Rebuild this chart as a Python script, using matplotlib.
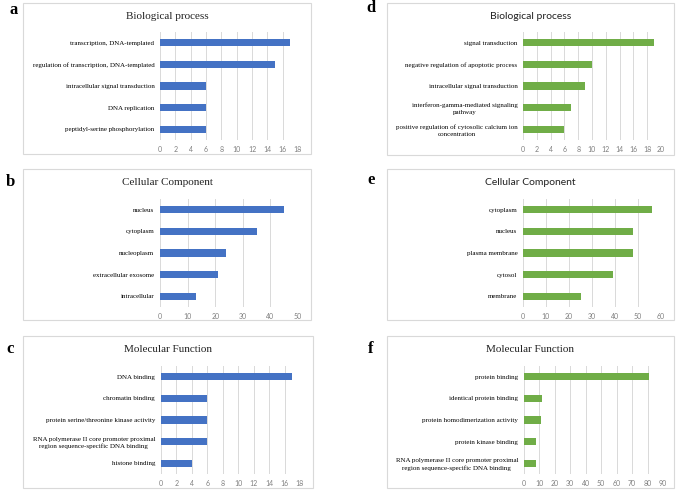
import matplotlib
matplotlib.use("Agg")
import matplotlib.pyplot as plt
from matplotlib.patches import Rectangle

W, H = 676, 492

BLUE = "#4472C4"
GREEN = "#70AD47"
GRID = "#D9D9D9"

bp_left_terms = ["transcription, DNA-templated",
                 "regulation of transcription, DNA-templated",
                 "intracellular signal transduction",
                 "DNA replication",
                 "peptidyl-serine phosphorylation"]
bp_left_counts = [17, 15, 6, 6, 6]

cc_left_terms = ["nucleus", "cytoplasm", "nucleoplasm",
                 "extracellular exosome", "intracellular"]
cc_left_counts = [45, 35, 24, 21, 13]

mf_left_terms = ["DNA binding", "chromatin binding",
                 "protein serine/threonine kinase activity",
                 "RNA polymerase II core promoter proximal\nregion sequence-specific DNA binding",
                 "histone binding"]
mf_left_counts = [17, 6, 6, 6, 4]

bp_right_terms = ["signal transduction",
                  "negative regulation of apoptotic process",
                  "intracellular signal transduction",
                  "interferon-gamma-mediated signaling\npathway",
                  "positive regulation of cytosolic calcium ion\nconcentration"]
bp_right_counts = [19, 10, 9, 7, 6]

cc_right_terms = ["cytoplasm", "nucleus", "plasma membrane", "cytosol", "membrane"]
cc_right_counts = [56, 48, 48, 39, 25]

mf_right_terms = ["protein binding", "identical protein binding",
                  "protein homodimerization activity", "protein kinase binding",
                  "RNA polymerase II core promoter proximal\nregion sequence-specific DNA binding"]
mf_right_counts = [81, 12, 11, 8, 8]

SERIF = ("Liberation Serif", 8)
SANS = ("Lato", 7.5)

# letter, title, terms, counts, xmax, step, colour, title font, box px, axes px
panels = [
    ("a", "Biological process", bp_left_terms, bp_left_counts, 18, 2, BLUE, SERIF,
     (23, 3, 311, 154), (160, 32, 298, 140)),
    ("b", "Cellular Component", cc_left_terms, cc_left_counts, 50, 10, BLUE, SERIF,
     (23, 169, 311, 320), (160, 199, 298, 307)),
    ("c", "Molecular Function", mf_left_terms, mf_left_counts, 18, 2, BLUE, SERIF,
     (23, 336, 313, 488), (160.7, 366, 300, 474)),
    ("d", "Biological process", bp_right_terms, bp_right_counts, 20, 2, GREEN, SANS,
     (387, 3, 674, 155), (523, 32, 661, 140)),
    ("e", "Cellular Component", cc_right_terms, cc_right_counts, 60, 10, GREEN, SANS,
     (387, 169, 674, 320), (523, 199, 661, 307)),
    ("f", "Molecular Function", mf_right_terms, mf_right_counts, 90, 10, GREEN, SERIF,
     (387, 336, 674, 488), (523.7, 366, 663, 474)),
]

letter_pos = {"a": (14, 10), "b": (10, 182), "c": (10, 349),
              "d": (371, 8), "e": (371, 180), "f": (371, 349)}


def fx(x):
    return x / W


def fy(y):
    return 1 - y / H


fig = plt.figure(figsize=(W / 100, H / 100), dpi=100)
fig.patch.set_facecolor("white")

for letter, title, terms, counts, xmax, step, color, tfont, box, area in panels:
    x0, y0, x1, y1 = box
    fig.add_artist(Rectangle((fx(x0), fy(y1)), fx(x1 - x0), (y1 - y0) / H,
                             transform=fig.transFigure, facecolor="white",
                             edgecolor=GRID, linewidth=0.8, zorder=0))
    fig.text(fx((x0 + x1) / 2), fy(y0 + 13.5), title, ha="center", va="center",
             fontsize=tfont[1], family=tfont[0], color="#222222")
    lx, ly = letter_pos[letter]
    fig.text(fx(lx), fy(ly), letter, ha="center", va="center",
             fontsize=12, fontweight="bold", family="Liberation Serif")

    ax0, ay0, ax1, ay1 = area
    ax = fig.add_axes([fx(ax0), fy(ay1), fx(ax1 - ax0), (ay1 - ay0) / H])
    ax.set_facecolor("none")
    pos = list(range(len(terms)))
    ax.barh(pos, counts, height=0.34, color=color, zorder=3)
    ax.set_ylim(len(terms) - 0.5, -0.5)
    ax.set_xlim(0, xmax)
    ax.set_xticks(range(0, xmax + 1, step))
    ax.set_yticks(pos)
    ax.set_yticklabels(terms, family="Liberation Serif", fontsize=5, color="black",
                       multialignment="center", linespacing=1.45)
    ax.tick_params(axis="both", length=0)
    ax.tick_params(axis="y", pad=4)
    ax.tick_params(axis="x", labelsize=5, labelcolor="#7F7F7F", pad=4)
    for lab in ax.get_xticklabels():
        lab.set_family("Lato")
    ax.grid(axis="x", color=GRID, linewidth=0.7, zorder=0)
    for s in ax.spines.values():
        s.set_visible(False)

fig.savefig("out.png", dpi=100, facecolor="white")
